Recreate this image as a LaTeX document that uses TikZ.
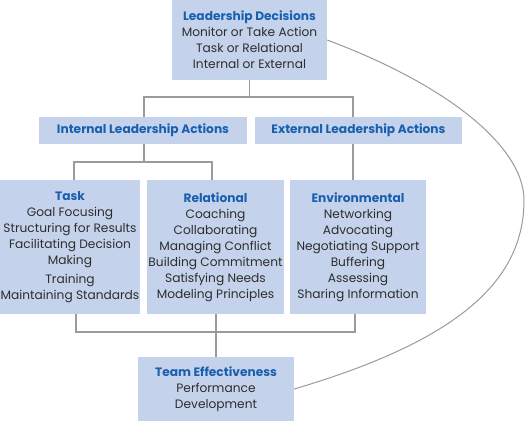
\documentclass[tikz,border=0pt]{standalone}
\usepackage{fontspec}
\setmainfont{Poppins}
\usetikzlibrary{calc}
\definecolor{boxfill}{RGB}{196,211,235}
\definecolor{titleblue}{RGB}{25,95,175}
\definecolor{linegray}{RGB}{155,155,155}
\definecolor{bodytext}{RGB}{45,45,45}
\tikzset{
  box/.style={fill=boxfill, draw=none, inner sep=0pt, align=center, text=bodytext,
    font=\fontsize{12.2}{16}\selectfont},
  conn/.style={draw=linegray, line width=1.2pt},
}
\newcommand{\ttl}[1]{{\color{titleblue}\bfseries #1}}
\begin{document}
\begin{tikzpicture}[x=1pt,y=-1pt]
\useasboundingbox (0,0) rectangle (525,421);
\node[box, minimum width=155pt, minimum height=80pt] (top) at (249.5,40)
  {\ttl{Leadership Decisions}\\Monitor or Take Action\\Task or Relational\\Internal or External};
\node[box, minimum width=208pt, minimum height=27pt] (int) at (143,130.5) {\ttl{Internal Leadership Actions}};
\node[box, minimum width=207pt, minimum height=27pt] (ext) at (358.5,130.5) {\ttl{External Leadership Actions}};
\node[box, minimum width=140pt, minimum height=134pt] (task) at (70,247)
  {\ttl{Task}\\Goal Focusing\\Structuring for Results\\Facilitating Decision\\Making\\[3pt]Training\\Maintaining Standards};
\node[box, minimum width=137pt, minimum height=134pt] (rel) at (215.5,247)
  {\ttl{Relational}\\Coaching\\Collaborating\\Managing Conflict\\Building Commitment\\Satisfying Needs\\Modeling Principles};
\node[box, minimum width=136pt, minimum height=134pt] (env) at (358,247)
  {\ttl{Environmental}\\Networking\\Advocating\\Negotiating Support\\Buffering\\Assessing\\Sharing Information};
\node[box, minimum width=156pt, minimum height=64pt] (team) at (216,389)
  {\ttl{Team Effectiveness}\\Performance\\Development};
\coordinate (j1) at (144,97);
\coordinate (j2) at (353,97);
\coordinate (k1) at (74,162);
\coordinate (k2) at (212,162);
\coordinate (m1) at (76,332);
\coordinate (m2) at (216,332);
\coordinate (m3) at (355,332);
\draw[conn] (top.south) -- (top.south |- j1);
\draw[conn] (int.north -| j1) -- (j1) -- (j2) -- (j2 |- ext.north);
\draw[conn] (int.south -| j1) -- (k1 -| j1);
\draw[conn] (k1 |- task.north) -- (k1) -- (k2) -- (k2 |- rel.north);
\draw[conn] (j2 |- ext.south) -- (j2 |- env.north);
\draw[conn] (m1 |- task.south) -- (m1) -- (m3) -- (m3 |- env.south);
\draw[conn] (m2 |- rel.south) -- (m2 |- team.north);
\draw[conn, line width=1pt] (top.east) .. controls (455,88) and (524,150) .. (524,200)
  .. controls (524,280) and (460,340) .. (team.east);
\end{tikzpicture}
\end{document}
